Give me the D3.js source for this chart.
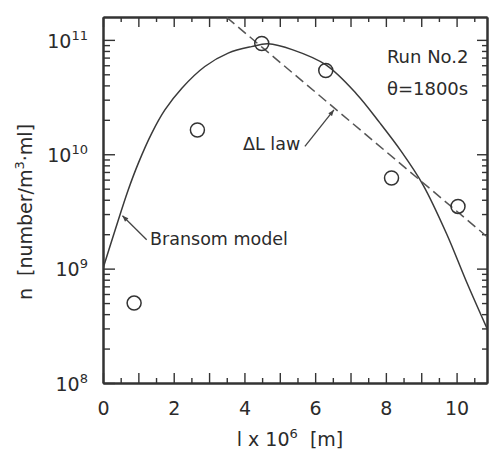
<!DOCTYPE html>
<html>
<head>
<meta charset="utf-8">
<script src="https://cdn.jsdelivr.net/npm/d3@7"></script>
<style>
  html, body { margin: 0; padding: 0; background: #fff; }
  svg { display: block; }
  text { font-family: "DejaVu Sans", sans-serif; fill: #2b2b2b; }
</style>
</head>
<body>
<svg id="chart" width="489" height="454"></svg>
<script>
// Measured population density, Run No.2 (θ = 1800 s)
const sizeL = [0.88, 2.67, 4.49, 6.30, 8.16, 10.04];          // l × 10^6 [m]
const popN  = [5.0e8, 1.63e10, 9.3e10, 5.4e10, 6.2e9, 3.5e9];  // n [number/m³·ml]

// Bransom model curve
const bransomL = [0, 0.35, 0.715, 1.0, 1.38, 1.75, 2.23, 2.88, 3.54, 4.20, 4.665,
                  5.37, 6.305, 7.17, 7.83, 8.445, 9.05, 9.72, 10.28, 10.89];
const bransomN = [1.0e9, 2.21e9, 4.89e9, 8.36e9, 1.53e10, 2.44e10, 3.78e10, 5.85e10,
                  7.66e10, 8.73e10, 9.23e10, 8.18e10, 6.04e10, 3.37e10, 1.88e10,
                  1.05e10, 5.41e9, 2.01e9, 7.67e8, 2.86e8];

// ΔL law (straight line on the semi-log plot)
const deltaL  = [3.50, 10.89];
const deltaN  = [1.57e11, 1.87e9];

// Axis ticks
const xMajor = [0, 1, 2, 3, 4, 5, 6, 7, 8, 9, 10];
const xMinor = [0.5, 1.5, 2.5, 3.5, 4.5, 5.5, 6.5, 7.5, 8.5, 9.5, 10.5];
const xLabelled = [0, 2, 4, 6, 8, 10];
const yExponents = [8, 9, 10, 11];
const yMantissas = [2, 3, 4, 5, 6, 7, 8, 9];

// Text annotations
const runLabel = "Run No.2";
const timeLabel = "θ=1800s";
const bransomLabel = "Bransom model";
const deltaLabel = "ΔL law";

const svg = d3.select("#chart");
const W = 489, H = 454;
const box = { left: 103, right: 487, top: 17, bottom: 383 };
const ink = "#333";

svg.append("rect").attr("width", W).attr("height", H).attr("fill", "#fff");

const x = d3.scaleLinear().domain([0, 10.86]).range([box.left, box.right]);
const y = d3.scaleLog().domain([1e8, Math.pow(10, 11.2)]).range([box.bottom, box.top]);

const decades = yExponents.map(e => Math.pow(10, e));
const minors = [];
yExponents.forEach(e => yMantissas.forEach(m => {
  const v = m * Math.pow(10, e);
  if (v < y.domain()[1]) minors.push(v);
}));

function styleAxis(g, width) {
  g.select(".domain").attr("stroke", ink).attr("stroke-width", width);
  g.selectAll(".tick line").attr("stroke", ink).attr("stroke-width", 1.4);
}

// Minor ticks (drawn first, no labels)
svg.append("g").attr("transform", `translate(0,${box.bottom})`)
  .call(d3.axisBottom(x).tickValues(xMinor).tickSize(-5).tickSizeOuter(0).tickFormat(""))
  .call(g => styleAxis(g, 2));
svg.append("g").attr("transform", `translate(0,${box.top})`)
  .call(d3.axisTop(x).tickValues(xMinor).tickSize(-5).tickSizeOuter(0).tickFormat(""))
  .call(g => styleAxis(g, 2));
svg.append("g").attr("transform", `translate(${box.left},0)`)
  .call(d3.axisLeft(y).tickValues(minors).tickSize(-7).tickSizeOuter(0).tickFormat(""))
  .call(g => styleAxis(g, 2));
svg.append("g").attr("transform", `translate(${box.right},0)`)
  .call(d3.axisRight(y).tickValues(minors).tickSize(-5).tickSizeOuter(0).tickFormat(""))
  .call(g => styleAxis(g, 2));

// Major ticks with labels
const xAxis = svg.append("g").attr("transform", `translate(0,${box.bottom})`)
  .call(d3.axisBottom(x).tickValues(xMajor).tickSize(-10).tickSizeOuter(0).tickPadding(19)
    .tickFormat(d => xLabelled.includes(d) ? String(d) : ""))
  .call(g => styleAxis(g, 2));
xAxis.selectAll(".tick text").attr("font-size", 19).attr("fill", "#2b2b2b")
  .attr("font-family", "DejaVu Sans, sans-serif");

svg.append("g").attr("transform", `translate(0,${box.top})`)
  .call(d3.axisTop(x).tickValues(xMajor).tickSize(-10).tickSizeOuter(0).tickFormat(""))
  .call(g => styleAxis(g, 2));

const yAxis = svg.append("g").attr("transform", `translate(${box.left},0)`)
  .call(d3.axisLeft(y).tickValues(decades).tickSize(-12).tickSizeOuter(0).tickPadding(15)
    .tickFormat(d => String(Math.round(Math.log10(d)))))
  .call(g => styleAxis(g, 2));
yAxis.selectAll(".tick text").each(function (d) {
  const t = d3.select(this);
  const e = Math.round(Math.log10(d));
  t.text(null).attr("font-size", 19).attr("fill", "#2b2b2b")
    .attr("font-family", "DejaVu Sans, sans-serif").attr("dy", "0.38em");
  t.append("tspan").text("10");
  t.append("tspan").attr("font-size", 13).attr("dy", -8).text(e);
});

svg.append("g").attr("transform", `translate(${box.right},0)`)
  .call(d3.axisRight(y).tickValues(decades).tickSize(-10).tickSizeOuter(0).tickFormat(""))
  .call(g => styleAxis(g, 2));

// Clip curves to the plotting frame
svg.append("clipPath").attr("id", "frame")
  .append("rect").attr("x", box.left).attr("y", box.top)
  .attr("width", box.right - box.left).attr("height", box.bottom - box.top);

const plotG = svg.append("g").attr("clip-path", "url(#frame)");

const bransom = bransomL.map((l, i) => [l, bransomN[i]]);
plotG.append("path")
  .datum(bransom)
  .attr("fill", "none").attr("stroke", "#3a3a3a").attr("stroke-width", 1.5)
  .attr("d", d3.line().x(d => x(d[0])).y(d => y(d[1])).curve(d3.curveCatmullRom.alpha(0.5)));

const delta = deltaL.map((l, i) => [l, deltaN[i]]);
plotG.append("path")
  .datum(delta)
  .attr("fill", "none").attr("stroke", "#555").attr("stroke-width", 1.5)
  .attr("stroke-dasharray", "10,5")
  .attr("d", d3.line().x(d => x(d[0])).y(d => y(d[1])));

// Measured points
svg.append("g").selectAll("circle")
  .data(sizeL.map((l, i) => [l, popN[i]]))
  .join("circle")
  .attr("cx", d => x(d[0])).attr("cy", d => y(d[1])).attr("r", 7)
  .attr("fill", "none").attr("stroke", "#333").attr("stroke-width", 1.5);

// Arrow marker for the leaders
svg.append("defs").append("marker")
  .attr("id", "tip").attr("viewBox", "0 0 10 10").attr("refX", 10).attr("refY", 5)
  .attr("markerWidth", 7).attr("markerHeight", 6).attr("markerUnits", "userSpaceOnUse")
  .attr("orient", "auto")
  .append("path").attr("d", "M0,1 L10,5 L0,9 Z").attr("fill", "#444");

function leader(from, to) {
  svg.append("line")
    .attr("x1", x(from[0])).attr("y1", y(from[1]))
    .attr("x2", x(to[0])).attr("y2", y(to[1]))
    .attr("stroke", "#444").attr("stroke-width", 1.3)
    .attr("marker-end", "url(#tip)");
}

leader([1.235, 1.79e9], [0.55, 2.9e9]);
leader([5.71, 1.17e10], [6.53, 2.44e10]);

svg.append("text").attr("x", x(1.33)).attr("y", y(1.61e9))
  .attr("font-size", 17.5).text(bransomLabel);
svg.append("text").attr("x", x(3.96)).attr("y", y(1.09e10))
  .attr("font-size", 17.5).text(deltaLabel);
svg.append("text").attr("x", x(8.03)).attr("y", y(6.3e10))
  .attr("font-size", 18).text(runLabel);
svg.append("text").attr("x", x(8.03)).attr("y", y(3.3e10))
  .attr("font-size", 18).text(timeLabel);

// Axis titles
const xt = svg.append("text").attr("x", 290).attr("y", 446)
  .attr("text-anchor", "middle").attr("font-size", 19);
xt.append("tspan").text("l x 10");
xt.append("tspan").attr("font-size", 13).attr("dy", -8).text("6");
xt.append("tspan").attr("dy", 8).text("\u00a0 [m]");

const yt = svg.append("text")
  .attr("transform", "translate(32,212) rotate(-90)")
  .attr("text-anchor", "middle").attr("font-size", 19);
yt.append("tspan").text("n\u00a0 [number/m");
yt.append("tspan").attr("font-size", 13).attr("dy", -8).text("3");
yt.append("tspan").attr("dy", 8).text("·ml]");
</script>
</body>
</html>
